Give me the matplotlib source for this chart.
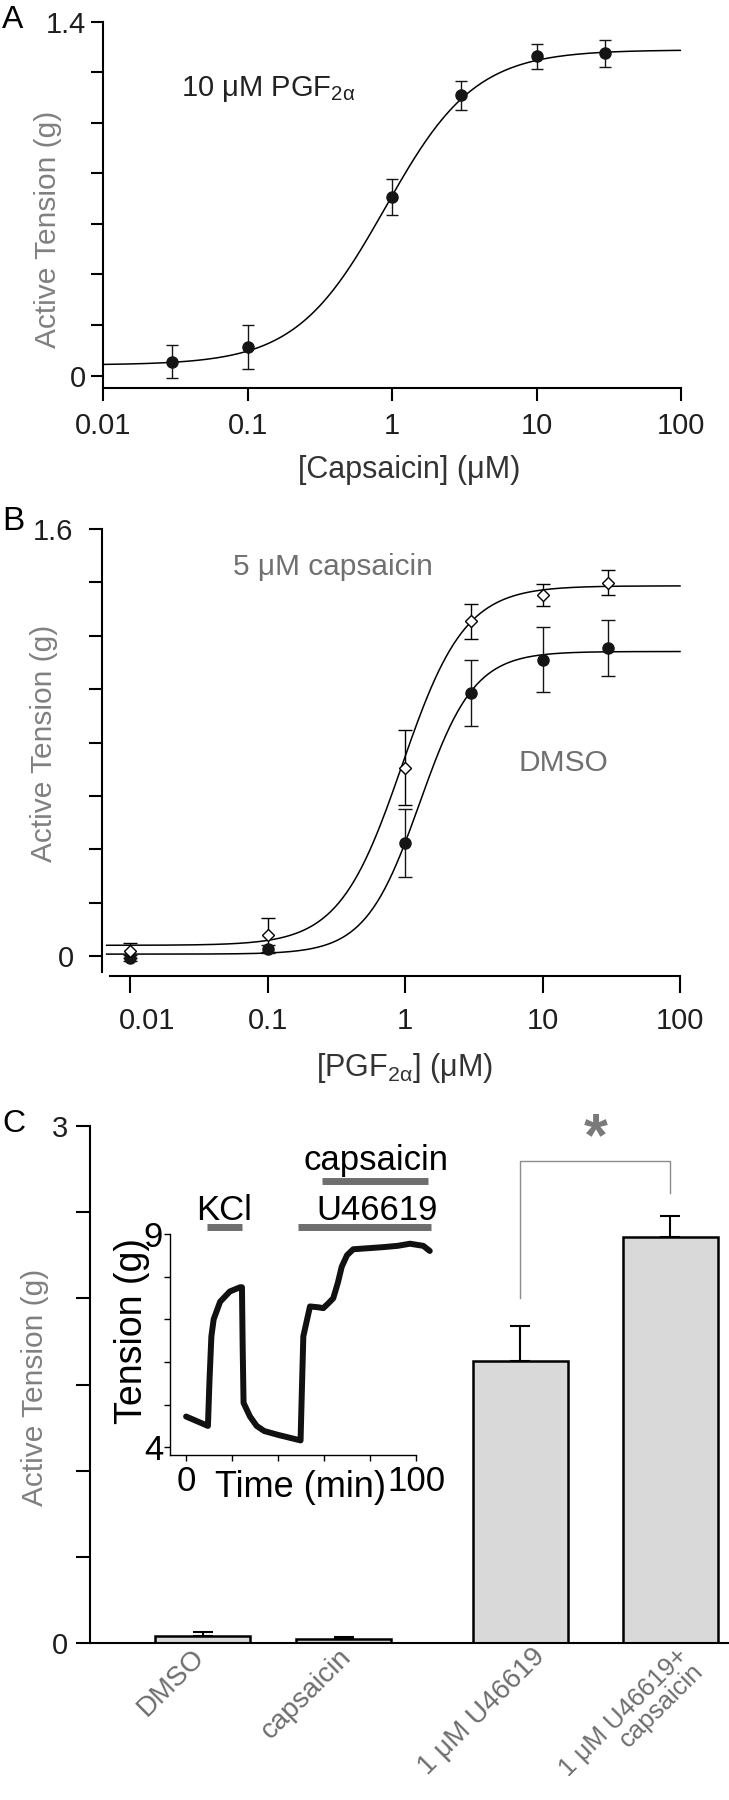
import numpy as np
import matplotlib
matplotlib.use('Agg')
import matplotlib.pyplot as plt
from matplotlib.ticker import FixedLocator, FixedFormatter

plt.rcParams['font.family'] = ['Liberation Sans', 'DejaVu Sans']
plt.rcParams['mathtext.default'] = 'regular'

# ---- data ----
# A: capsaicin on 10 uM PGF2a pre-contraction
capsA_conc = [0.03, 0.1, 1, 3, 10, 30]
capsA_tension = [0.055, 0.114, 0.707, 1.108, 1.262, 1.275]
capsA_err = [0.066, 0.086, 0.072, 0.059, 0.050, 0.053]
capsA_fit = [0.042, 1.288, 0.9, 1.4]          # bottom, top, EC50, hill slope

# B: PGF2a with 5 uM capsaicin / DMSO
pgf_conc = [0.01, 0.1, 1, 3, 10, 30]
pgf_caps = [0.019, 0.079, 0.706, 1.254, 1.353, 1.399]
pgf_caps_err = [0.028, 0.065, 0.14, 0.066, 0.042, 0.047]
pgf_dmso = [-0.007, 0.026, 0.424, 0.986, 1.111, 1.154]
pgf_dmso_err = [0.01, 0.015, 0.127, 0.125, 0.12, 0.104]
pgf_caps_fit = [0.04, 1.387, 0.95, 1.9]
pgf_dmso_fit = [0.007, 1.141, 1.28, 2.2]

# C: bars
bar_labels = ['DMSO', 'capsaicin', '1 μM U46619', '1 μM U46619+\ncapsaicin']
bar_values = [0.039, 0.021, 1.634, 2.358]
bar_err = [0.023, 0.015, 0.206, 0.121]

# C inset: raw tension trace
trace_time = [0, 9.5, 10.2, 11, 12, 14.8, 19, 23.5, 24.3, 24.6, 25, 27.8, 30.7, 34, 40,
              49.8, 50.2, 51, 53.9, 57.5, 59.7, 62, 64, 66, 67.7, 70, 72.7, 78, 85.8,
              92, 97.4, 103.2, 106]
trace_tension = [4.72, 4.50, 5.6, 6.6, 7.0, 7.41, 7.65, 7.75, 7.75, 6.4, 5.04, 4.72, 4.50,
                 4.38, 4.29, 4.16, 5.0, 6.6, 7.30, 7.28, 7.26, 7.38, 7.49, 7.85, 8.23, 8.50,
                 8.64, 8.66, 8.69, 8.72, 8.77, 8.72, 8.60]
kcl_span = [9.1, 24.3]
u466_span = [48.7, 106.5]
caps_span = [59, 105.3]


def hill(x, bottom, top, ec50, n):
    return bottom + (top - bottom) / (1 + (ec50 / x) ** n)


GRAY = '#808080'
DARK = '#1e1e1e'

fig = plt.figure(figsize=(7.29, 18), dpi=100)


def style_axis(ax, lw=1.5):
    ax.spines['top'].set_visible(False)
    ax.spines['right'].set_visible(False)
    ax.spines['left'].set_linewidth(lw)
    ax.spines['bottom'].set_linewidth(lw)
    ax.tick_params(direction='out', width=lw, colors='black', labelcolor=DARK,
                   labelsize=21)
    ax.minorticks_off()


# ---------------- panel A ----------------
axA = fig.add_axes([0.1413, 0.7843, 0.7929, 0.2037])
style_axis(axA)
axA.set_xscale('log')
axA.set_xlim(0.01, 100)
axA.set_ylim(-0.05, 1.4)
xs = np.logspace(-2, 2, 300)
axA.plot(xs, hill(xs, *capsA_fit), color='black', lw=1.1)
axA.errorbar(capsA_conc, capsA_tension, yerr=capsA_err, fmt='o', color='#151515',
             ms=8, elinewidth=1, capsize=4.5, capthick=1)
axA.xaxis.set_major_locator(FixedLocator([0.01, 0.1, 1, 10, 100]))
axA.xaxis.set_major_formatter(FixedFormatter(['0.01', '0.1', '1', '10', '100']))
axA.xaxis.set_minor_locator(FixedLocator([]))
axA.yaxis.set_major_locator(FixedLocator(np.arange(0, 1.41, 0.2)))
axA.yaxis.set_major_formatter(FixedFormatter(['0', '', '', '', '', '', '', '1.4']))
axA.tick_params(axis='x', length=9.4, pad=8)
axA.tick_params(axis='y', length=8.6, pad=3.6)
axA.set_xlabel('[Capsaicin] (μM)', fontsize=22, color='#333333')
axA.xaxis.set_label_coords(0.529, -0.223)
axA.xaxis.label.set_va('center')
axA.set_ylabel('Active Tension (g)', fontsize=21.5, color=GRAY)
axA.yaxis.set_label_coords(-0.095, 0.432)
axA.yaxis.label.set_va('center')
axA.text(0.0347, 1.106, r'10 μM PGF$_{2α}$', fontsize=21, color='#222222',
         ha='left', va='baseline')
fig.text(0.003, 1 - 28 / 1800, 'A', fontsize=23, va='baseline')

# ---------------- panel B ----------------
axB = fig.add_axes([0.1509, 0.46, 0.7819, 0.2461])
style_axis(axB)
axB.spines['left'].set_position(('outward', 5.8))
axB.spines['bottom'].set_position(('outward', 2.9))
axB.set_xscale('log')
axB.set_xlim(10 ** -2.1455, 100)
axB.set_ylim(-0.06, 1.6)
xs = np.logspace(-2.17, 2, 300)
axB.plot(xs, hill(xs, *pgf_caps_fit), color='black', lw=1.1, clip_on=False)
axB.plot(xs, hill(xs, *pgf_dmso_fit), color='black', lw=1.1, clip_on=False)
axB.errorbar(pgf_conc, pgf_dmso, yerr=pgf_dmso_err, fmt='o', color='#151515',
             ms=8, elinewidth=1, capsize=5, capthick=1)
axB.errorbar(pgf_conc, pgf_caps, yerr=pgf_caps_err, fmt='D', color='black',
             mfc='white', mec='black', mew=1, ms=6.5, elinewidth=1, capsize=5,
             capthick=1)
axB.xaxis.set_major_locator(FixedLocator([0.01, 0.1, 1, 10, 100]))
# the 0.01 label is drawn by hand below, nudged right of its tick like the original
axB.xaxis.set_major_formatter(FixedFormatter(['', '0.1', '1', '10', '100']))
axB.xaxis.set_minor_locator(FixedLocator([]))
axB.yaxis.set_major_locator(FixedLocator(np.arange(0, 1.61, 0.2)))
axB.yaxis.set_major_formatter(FixedFormatter(['0', '', '', '', '', '', '', '', '1.6']))
axB.tick_params(axis='x', length=12, pad=10)
axB.tick_params(axis='y', length=9.4, pad=11)
axB.annotate('0.01', xy=(0.01, 0), xycoords=('data', 'axes fraction'),
             xytext=(12.2, -24.9), textcoords='offset points', ha='center', va='top',
             fontsize=21, color=DARK)
axB.set_xlabel(r'[PGF$_{2α}$] (μM)', fontsize=22, color='#333333')
axB.xaxis.set_label_coords(0.5175, -0.217)
axB.xaxis.label.set_va('center')
axB.set_ylabel('Active Tension (g)', fontsize=21.5, color=GRAY)
axB.yaxis.set_label_coords(-0.116, 0.515)
axB.yaxis.label.set_va('center')
axB.text(0.0557, 1.427, '5 μM capsaicin', fontsize=21.5, color='#707070',
         ha='left', va='baseline')
axB.text(6.7, 0.695, 'DMSO', fontsize=21.5, color='#707070', ha='left', va='baseline')
fig.text(0.003, 1 - 530 / 1800, 'B', fontsize=24, va='baseline')

# ---------------- panel C ----------------
axC = fig.add_axes([0.1235, 0.0872, 0.8765, 0.2872])
style_axis(axC)
bar_pos = [0, 1, 2.255, 3.316]
axC.bar(bar_pos, bar_values, width=0.674, color='#d9d9d9', edgecolor='black',
        linewidth=1.8, zorder=2)
axC.errorbar(bar_pos, bar_values, yerr=[np.zeros(len(bar_err)), bar_err], fmt='none',
             ecolor='black', elinewidth=1.5, capsize=7.5, capthick=1.5, zorder=3)
axC.set_xlim(-0.798, 3.734)
axC.set_ylim(0, 3)
axC.spines['bottom'].set_zorder(4)
axC.set_xticks([])
label_shift = [-0.08, -0.04, 0.08, 0.04]
label_size = [20, 20, 20, 18.5]
for p, s, fs, lab in zip(bar_pos, label_shift, label_size, bar_labels):
    axC.annotate(lab, xy=(p + s, 0), xycoords=('data', 'axes fraction'),
                 xytext=(0, -0.5), textcoords='offset points', rotation=45,
                 ha='right', va='top', rotation_mode='anchor', color='#6e6e6e',
                 fontsize=fs, multialignment='right', linespacing=0.9)
axC.yaxis.set_major_locator(FixedLocator(np.arange(0, 3.01, 0.5)))
axC.yaxis.set_major_formatter(FixedFormatter(['0', '', '', '', '', '', '3']))
axC.tick_params(axis='y', length=10, pad=6)
axC.set_ylabel('Active Tension (g)', fontsize=21.5, color=GRAY)
axC.yaxis.set_label_coords(-0.086, 0.495)
axC.yaxis.label.set_va('center')
# significance bracket
axC.plot([bar_pos[2], bar_pos[2], bar_pos[3], bar_pos[3]], [2.0, 2.80, 2.80, 2.61],
         color='#8c8c8c', lw=1)
axC.text((bar_pos[2] + bar_pos[3]) / 2, 2.92, '*', fontsize=44, fontweight='bold',
         color='#7a7a7a', ha='center', va='center')
fig.text(0.003, 1 - 1132 / 1800, 'C', fontsize=23, va='baseline')

# inset trace
axI = fig.add_axes([0.2332, 0.1917, 0.3374, 0.1228])
axI.patch.set_alpha(0)
style_axis(axI, lw=1)
axI.set_xlim(-7, 100)
axI.set_ylim(3.82, 9)
axI.plot(trace_time, trace_tension, color='#111111', lw=4.3, clip_on=False,
         solid_capstyle='round', solid_joinstyle='round')
axI.xaxis.set_major_locator(FixedLocator(np.arange(0, 101, 20)))
axI.xaxis.set_major_formatter(FixedFormatter(['0', '', '', '', '', '100']))
axI.yaxis.set_major_locator(FixedLocator(np.arange(4, 9.1, 1)))
axI.yaxis.set_major_formatter(FixedFormatter(['4', '', '', '', '', '9']))
axI.tick_params(length=4, labelsize=25, labelcolor='black')
axI.tick_params(axis='x', pad=3.5)
axI.tick_params(axis='y', pad=1)
axI.set_xlabel('Time (min)', fontsize=26)
axI.xaxis.set_label_coords(0.532, -0.149)
axI.xaxis.label.set_va('center')
axI.set_ylabel('Tension (g)', fontsize=27)
axI.yaxis.set_label_coords(-0.154, 0.561)
axI.yaxis.label.set_va('center')
bar_gray = '#6e6e6e'
axI.plot(kcl_span, [9.15, 9.15], color=bar_gray, lw=5, clip_on=False, solid_capstyle='butt')
axI.plot(u466_span, [9.15, 9.15], color=bar_gray, lw=5, clip_on=False, solid_capstyle='butt')
axI.plot(caps_span, [10.25, 10.25], color=bar_gray, lw=5, clip_on=False, solid_capstyle='butt')
axI.text(16.5, 9.33, 'KCl', fontsize=25, ha='center', va='baseline')
axI.text(83, 9.33, 'U46619', fontsize=25, ha='center', va='baseline')
axI.text(82.6, 10.5, 'capsaicin', fontsize=25, ha='center', va='baseline')

fig.savefig('out.png', dpi=100)
